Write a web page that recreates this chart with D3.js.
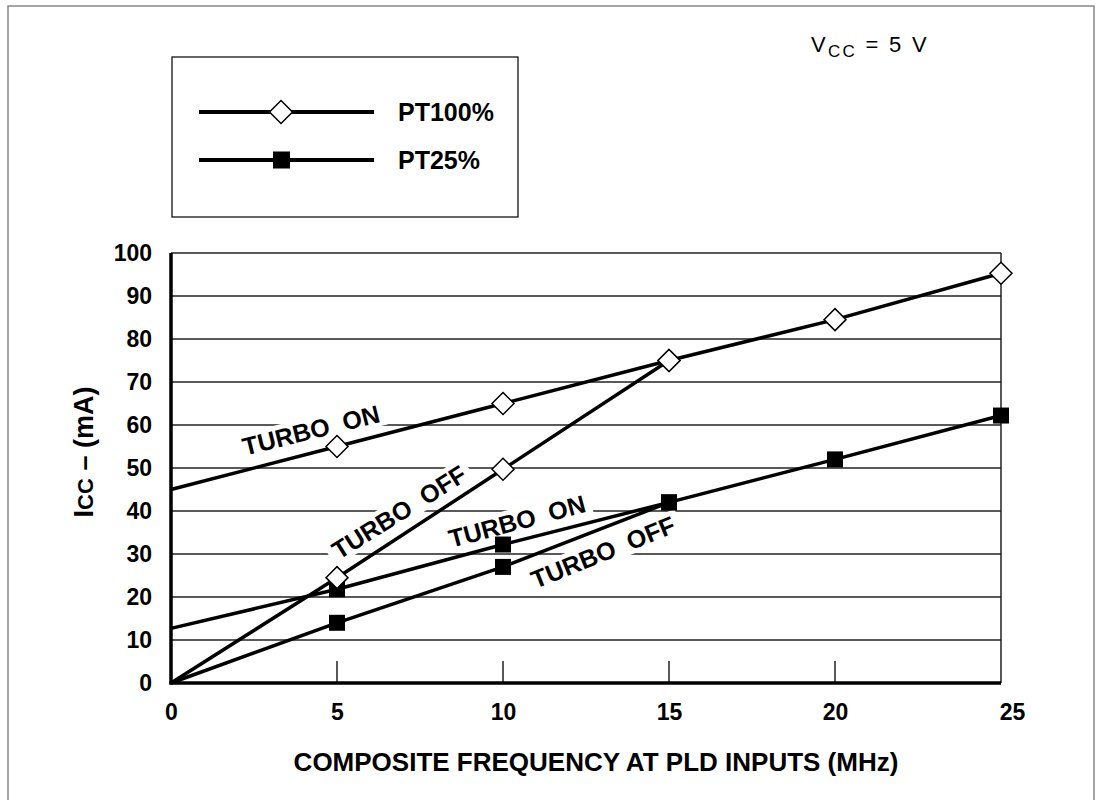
<!DOCTYPE html>
<html><head><meta charset="utf-8">
<script src="https://cdn.jsdelivr.net/npm/d3@7/dist/d3.min.js"></script>
<style>
html,body{margin:0;padding:0;background:#fff;}
svg{display:block;font-family:"Liberation Sans",Arial,Helvetica,sans-serif;}
</style></head>
<body>
<svg id="chart" width="1101" height="800"></svg>
<script>
// ---- data ----
const xTicks = [0, 5, 10, 15, 20, 25];
const yTicks = [0, 10, 20, 30, 40, 50, 60, 70, 80, 90, 100];
const pt100OnX  = [0, 5, 10, 15, 20, 25];
const pt100OnY  = [45, 55, 65, 75, 84.5, 95.3];
const pt100OffX = [0, 5, 10, 15];
const pt100OffY = [0, 24.5, 49.7, 75];
const pt25OnX   = [0, 5, 10, 15, 20, 25];
const pt25OnY   = [12.7, 21.8, 32.2, 42, 52, 62.2];
const pt25OffX  = [0, 5, 10, 15];
const pt25OffY  = [0, 14, 27, 42];
const seriesNames = ["PT100%", "PT25%"];
const curveLabels = ["TURBO\u00A0\u00A0ON", "TURBO\u00A0\u00A0OFF", "TURBO\u00A0\u00A0ON", "TURBO\u00A0\u00A0OFF"];
const xTitle = "COMPOSITE FREQUENCY AT PLD INPUTS (MHz)";

const svg = d3.select("#chart");
const x = d3.scaleLinear().domain([0, 25]).range([171, 1001]);
const y = d3.scaleLinear().domain([0, 100]).range([683, 253]);

// outer frame
svg.append("rect").attr("x", 8).attr("y", 6).attr("width", 1086).attr("height", 820)
  .attr("fill", "none").attr("stroke", "#888").attr("stroke-width", 1.5);

// gridlines
svg.append("g").selectAll("line").data(yTicks.filter(d => d > 0)).join("line")
  .attr("x1", x(0)).attr("x2", x(25)).attr("y1", d => y(d)).attr("y2", d => y(d))
  .attr("stroke", "#222").attr("stroke-width", 1.5);
// right border
svg.append("line").attr("x1", x(25)).attr("x2", x(25)).attr("y1", y(100)).attr("y2", y(0))
  .attr("stroke", "#222").attr("stroke-width", 1.5);

// x axis (ticks pointing into plot)
const xAxis = d3.axisBottom(x).tickValues(xTicks).tickSize(0).tickPadding(0);
const gx = svg.append("g").attr("transform", `translate(0,${y(0)})`).call(xAxis);
gx.select(".domain").remove();
gx.selectAll("text").attr("font-size", 23).attr("font-weight", "bold").attr("fill", "#000")
  .attr("dy", null).attr("y", 37).attr("dx", d => d === 25 ? 11 : 0)
  .attr("font-family", "Liberation Sans, Arial, sans-serif");
svg.append("g").selectAll("line").data(xTicks.filter(d => d > 0 && d < 25)).join("line")
  .attr("x1", d => x(d)).attr("x2", d => x(d)).attr("y1", y(0)).attr("y2", y(0) - 22)
  .attr("stroke", "#222").attr("stroke-width", 1.5);

// y axis
const yAxis = d3.axisLeft(y).tickValues(yTicks).tickSize(0).tickPadding(19);
const gy = svg.append("g").attr("transform", `translate(${x(0)},0)`).call(yAxis);
gy.select(".domain").remove();
gy.selectAll("text").attr("font-size", 23).attr("font-weight", "bold").attr("fill", "#000")
  .attr("font-family", "Liberation Sans, Arial, sans-serif");

// axis lines (thick)
svg.append("line").attr("x1", x(0)).attr("x2", x(0)).attr("y1", y(100)).attr("y2", y(0) + 1.5)
  .attr("stroke", "#000").attr("stroke-width", 3.5);
svg.append("line").attr("x1", x(0) - 1.5).attr("x2", x(25)).attr("y1", y(0)).attr("y2", y(0))
  .attr("stroke", "#000").attr("stroke-width", 3.5);

// curve labels with white backgrounds
const labelPos = [
  {cx: 311, cy: 430, a: -14},
  {cx: 399, cy: 512, a: -32},
  {cx: 517, cy: 521, a: -15},
  {cx: 603, cy: 552, a: -22}
];
const lg = svg.append("g");
curveLabels.forEach((t, i) => {
  const p = labelPos[i];
  const g = lg.append("g").attr("transform", `translate(${p.cx},${p.cy}) rotate(${p.a})`);
  const rect = g.append("rect").attr("fill", "#fff");
  const txt = g.append("text").text(t).attr("text-anchor", "middle").attr("dy", "0.36em")
    .attr("font-size", 25).attr("font-weight", "bold").attr("fill", "#000");
  const len = txt.node().getComputedTextLength();
  rect.attr("x", -len / 2 - 6).attr("y", -13).attr("width", len + 12).attr("height", 26);
});

// lines
const line = d3.line().x(d => x(d[0])).y(d => y(d[1]));
const zip = (a, b) => a.map((v, i) => [v, b[i]]);
const series = [
  {xs: pt25OnX, ys: pt25OnY, m: "sq"},
  {xs: pt25OffX, ys: pt25OffY, m: "sq"},
  {xs: pt100OnX, ys: pt100OnY, m: "di"},
  {xs: pt100OffX, ys: pt100OffY, m: "di"}
];
series.forEach(s => {
  svg.append("path").datum(zip(s.xs, s.ys)).attr("d", line)
    .attr("fill", "none").attr("stroke", "#000").attr("stroke-width", 3.5).attr("stroke-linejoin", "round");
});
const diamond = (cx, cy, r) => `M${cx},${cy - r}L${cx + r},${cy}L${cx},${cy + r}L${cx - r},${cy}Z`;
// squares first, diamonds on top
series.filter(s => s.m === "sq").forEach(s => {
  svg.append("g").selectAll("rect").data(zip(s.xs, s.ys).filter(d => d[0] > 0)).join("rect")
    .attr("x", d => x(d[0]) - 8).attr("y", d => y(d[1]) - 8).attr("width", 16).attr("height", 16)
    .attr("fill", "#000");
});
series.filter(s => s.m === "di").forEach(s => {
  svg.append("g").selectAll("path").data(zip(s.xs, s.ys).filter(d => d[0] > 0)).join("path")
    .attr("d", d => diamond(x(d[0]), y(d[1]), 11))
    .attr("fill", "#fff").attr("stroke", "#000").attr("stroke-width", 1.5);
});

// axis titles
svg.append("text").attr("x", 596).attr("y", 762).attr("dy", "0.36em").attr("text-anchor", "middle")
  .attr("font-size", 26).attr("font-weight", "bold")
  .text(xTitle);
const yt = svg.append("text").attr("transform", "translate(93,452) rotate(-90)")
  .attr("text-anchor", "middle").attr("font-size", 27).attr("font-weight", "bold");
yt.append("tspan").text("I");
yt.append("tspan").attr("font-size", 22).text("CC");
yt.append("tspan").text(" – (mA)");

// Vcc label
const vt = svg.append("text").attr("x", 811).attr("y", 52).attr("font-size", 22)
  .attr("letter-spacing", 2.3).attr("fill", "#000");
vt.append("tspan").text("V");
vt.append("tspan").attr("font-size", 17).attr("dy", 5).text("CC");
vt.append("tspan").attr("dy", -5).text(" = 5 V");

// legend
svg.append("rect").attr("x", 172).attr("y", 57).attr("width", 346).attr("height", 160)
  .attr("fill", "#fff").attr("stroke", "#000").attr("stroke-width", 1.2);
const legY = [112, 160];
seriesNames.forEach((n, i) => {
  svg.append("line").attr("x1", 199).attr("x2", 374).attr("y1", legY[i]).attr("y2", legY[i])
    .attr("stroke", "#000").attr("stroke-width", 4);
  if (i === 0) {
    svg.append("path").attr("d", diamond(281, legY[i], 11.5)).attr("fill", "#fff")
      .attr("stroke", "#000").attr("stroke-width", 1.5);
  } else {
    svg.append("rect").attr("x", 273).attr("y", legY[i] - 8.5).attr("width", 17).attr("height", 17).attr("fill", "#000");
  }
  svg.append("text").attr("x", 398).attr("y", legY[i]).attr("dy", "0.36em")
    .attr("font-size", 25).attr("font-weight", "bold").text(n);
});
</script>
</body></html>
